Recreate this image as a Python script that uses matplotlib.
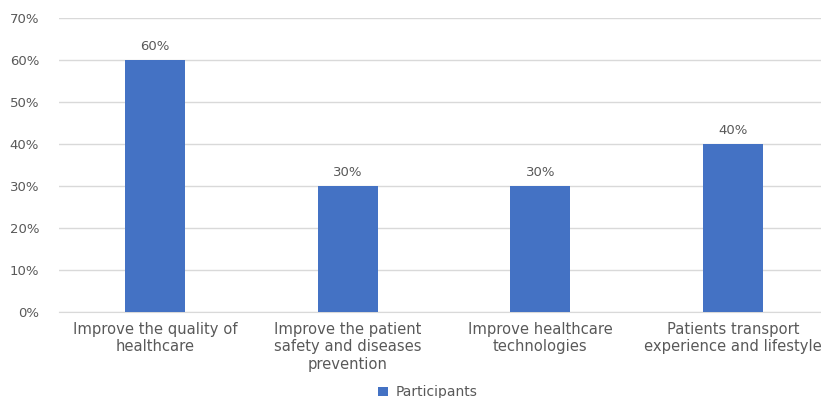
import matplotlib.pyplot as plt
from matplotlib.ticker import PercentFormatter

categories = ["Improve the quality of\nhealthcare",
              "Improve the patient\nsafety and diseases\nprevention",
              "Improve healthcare\ntechnologies",
              "Patients transport\nexperience and lifestyle"]
participants = [60, 30, 30, 40]
series_name = "Participants"

plt.rcParams['font.family'] = ['DejaVu Sans']
text_color = '#595959'

fig = plt.figure(figsize=(8.21, 3.98), dpi=100)
ax = fig.add_axes([0.0713, 0.216, 0.939, 0.739])

x = range(len(categories))
bars = ax.bar(x, participants, width=0.31, color='#4472C4', label=series_name, zorder=3)
for b, v in zip(bars, participants):
    ax.text(b.get_x() + b.get_width() / 2, v + 1.6, f"{v}%", ha='center', va='bottom',
            fontsize=9.5, color=text_color)

ax.set_xlim(-0.5, len(categories) - 0.5)
ax.set_ylim(0, 70)
ax.set_yticks(range(0, 71, 10))
ax.yaxis.set_major_formatter(PercentFormatter(decimals=0))
ax.set_xticks(list(x))
ax.set_xticklabels(categories, fontsize=10.6, color=text_color, linespacing=1.2)
ax.tick_params(axis='y', labelsize=9.5, colors=text_color, length=0, pad=14)
ax.tick_params(axis='x', length=0, pad=7)
ax.grid(axis='y', color='#D9D9D9', linewidth=1, zorder=0)
for s in ['top', 'right', 'left']:
    ax.spines[s].set_visible(False)
ax.spines['bottom'].set_color('#D9D9D9')

fig.legend(handles=[bars], labels=[series_name], loc='center', bbox_to_anchor=(0.521, 0.014),
           frameon=False, fontsize=10, handlelength=0.7, handleheight=0.7, handletextpad=0.5,
           labelcolor=text_color, borderpad=0.1)

fig.savefig("out.png", dpi=100)
